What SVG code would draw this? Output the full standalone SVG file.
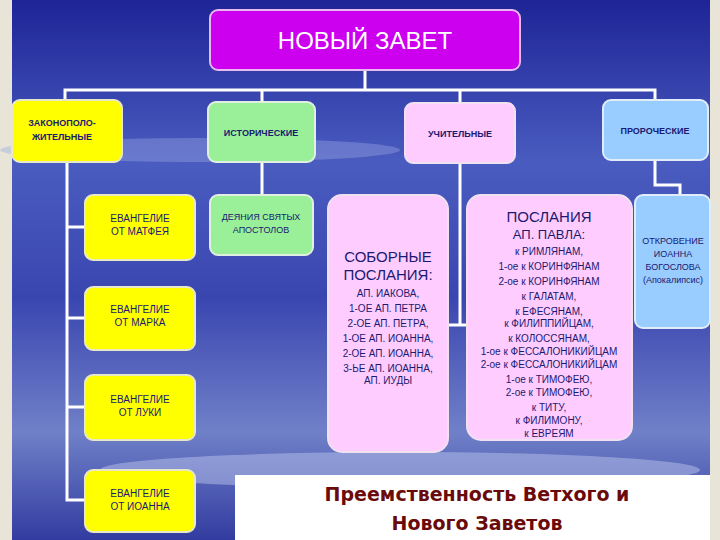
<svg xmlns="http://www.w3.org/2000/svg" width="720" height="540" viewBox="0 0 720 540">
<defs>
<linearGradient id="bg" x1="0" y1="0" x2="0" y2="1">
<stop offset="0" stop-color="#1e2496"/><stop offset="0.3" stop-color="#4a5cc0"/><stop offset="0.55" stop-color="#3a46b0"/><stop offset="0.8" stop-color="#7080c8"/><stop offset="1" stop-color="#323ca0"/>
</linearGradient>
<style>
.c{stroke:#fff;stroke-width:3;fill:none}
.y{fill:#ffff00;stroke:#e8e8c8;stroke-width:2}
.g{fill:#99f099;stroke:#e0f0e0;stroke-width:2}
.p{fill:#ffccff;stroke:#f0e0f0;stroke-width:2}
.b{fill:#99ccff;stroke:#e0ecf8;stroke-width:2}
text{font-family:"Liberation Sans",Arial,sans-serif;fill:#1a1a70;text-anchor:middle}
.s{font-size:10px}
.t{font-size:9px}
</style>
</defs>
<rect width="720" height="540" fill="#e8e4d8"/>
<rect x="12" y="0" width="698" height="540" fill="url(#bg)"/>
<ellipse cx="400" cy="470" rx="300" ry="18" fill="#b8c4ec" opacity="0.5"/>
<ellipse cx="200" cy="150" rx="200" ry="12" fill="#9aa8e0" opacity="0.4"/>
<g id="connectors">
<path class="c" d="M65 100V90H655V100M262 90V102M460 90V103M365 70V90"/>
<path class="c" d="M67 162V500H85M67 227H85M67 318H85M67 407H85"/>
<path class="c" d="M262 162V195"/>
<path class="c" d="M460 163V325M448 325H467"/>
<path class="c" d="M655 160V185H680V195"/>
</g>
<g id="top"><rect x="210" y="10" width="310" height="60" rx="8" fill="#cc00ee" stroke="#e8b8f0" stroke-width="2"/><text x="365" y="49" style="font-size:24px;fill:#fff">НОВЫЙ ЗАВЕТ</text></g>
<g id="zak"><rect class="y" x="12" y="100" width="110" height="62" rx="8"/><text class="t" x="62" y="126" style="font-weight:bold">ЗАКОНОПОЛО-</text><text class="t" x="62" y="140" style="font-weight:bold">ЖИТЕЛЬНЫЕ</text></g>
<g id="ist"><rect class="g" x="208" y="102" width="107" height="60" rx="8"/><text class="t" x="261" y="136" style="font-weight:bold">ИСТОРИЧЕСКИЕ</text></g>
<g id="uch"><rect class="p" x="405" y="103" width="110" height="60" rx="8"/><text class="t" x="460" y="137" style="font-weight:bold">УЧИТЕЛЬНЫЕ</text></g>
<g id="pro"><rect class="b" x="603" y="100" width="105" height="60" rx="8"/><text class="t" x="655" y="134" style="font-weight:bold">ПРОРОЧЕСКИЕ</text></g>
<g id="mf"><rect class="y" x="85" y="195" width="110" height="65" rx="8"/><text class="s" x="140" y="222">ЕВАНГЕЛИЕ</text><text class="s" x="140" y="235">ОТ МАТФЕЯ</text></g>
<g id="mk"><rect class="y" x="85" y="287" width="110" height="63" rx="8"/><text class="s" x="140" y="313">ЕВАНГЕЛИЕ</text><text class="s" x="140" y="326">ОТ МАРКА</text></g>
<g id="lk"><rect class="y" x="85" y="375" width="110" height="65" rx="8"/><text class="s" x="140" y="403">ЕВАНГЕЛИЕ</text><text class="s" x="140" y="416">ОТ ЛУКИ</text></g>
<g id="in"><rect class="y" x="85" y="470" width="110" height="62" rx="8"/><text class="s" x="140" y="497">ЕВАНГЕЛИЕ</text><text class="s" x="140" y="510">ОТ ИОАННА</text></g>
<g id="dey"><rect class="g" x="210" y="195" width="103" height="60" rx="8"/><text class="t" x="261" y="220">ДЕЯНИЯ СВЯТЫХ</text><text class="t" x="261" y="233">АПОСТОЛОВ</text></g>
<g id="sob"><rect class="p" x="328" y="195" width="120" height="257" rx="14"/>
<text x="388" y="262" style="font-size:15px">СОБОРНЫЕ</text><text x="388" y="280" style="font-size:15px">ПОСЛАНИЯ:</text>
<text class="s" x="388" y="297">АП. ИАКОВА,</text><text class="s" x="388" y="312">1-ОЕ АП. ПЕТРА</text><text class="s" x="388" y="327">2-ОЕ АП. ПЕТРА,</text><text class="s" x="388" y="342">1-ОЕ АП. ИОАННА,</text><text class="s" x="388" y="357">2-ОЕ АП. ИОАННА,</text><text class="s" x="388" y="372">3-ЬЕ АП. ИОАННА,</text><text class="s" x="388" y="384">АП. ИУДЫ</text></g>
<g id="pav"><rect class="p" x="467" y="195" width="165" height="245" rx="14"/>
<text x="549" y="222" style="font-size:15px">ПОСЛАНИЯ</text><text x="549" y="239" style="font-size:13px">АП. ПАВЛА:</text>
<text class="s" x="549" y="255">к РИМЛЯНАМ,</text><text class="s" x="549" y="270">1-ое к КОРИНФЯНАМ</text><text class="s" x="549" y="285">2-ое к КОРИНФЯНАМ</text><text class="s" x="549" y="300">к ГАЛАТАМ,</text><text class="s" x="549" y="315">к ЕФЕСЯНАМ,</text><text class="s" x="549" y="327">к ФИЛИППИЙЦАМ,</text><text class="s" x="549" y="342">к КОЛОССЯНАМ,</text><text class="s" x="549" y="355">1-ое к ФЕССАЛОНИКИЙЦАМ</text><text class="s" x="549" y="368">2-ое к ФЕССАЛОНИКИЙЦАМ</text><text class="s" x="549" y="383">1-ое к ТИМОФЕЮ,</text><text class="s" x="549" y="396">2-ое к ТИМОФЕЮ,</text><text class="s" x="549" y="411">к ТИТУ,</text><text class="s" x="549" y="424">к ФИЛИМОНУ,</text><text class="s" x="549" y="437">к ЕВРЕЯМ</text></g>
<g id="otk"><rect class="b" x="635" y="195" width="75" height="133" rx="8"/>
<text class="t" x="673" y="244">ОТКРОВЕНИЕ</text><text class="t" x="673" y="257">ИОАННА</text><text class="t" x="673" y="270">БОГОСЛОВА</text><text class="t" x="673" y="283">(Апокалипсис)</text></g>
<g id="caption"><rect x="235" y="475" width="475" height="65" fill="#fff"/>
<text x="477" y="501" style="font-size:19px;font-weight:bold;font-family:'DejaVu Sans',sans-serif;fill:#6a0a0a">Преемственность Ветхого и</text>
<text x="477" y="530" style="font-size:19px;font-weight:bold;font-family:'DejaVu Sans',sans-serif;fill:#6a0a0a">Нового Заветов</text></g>
</svg>
